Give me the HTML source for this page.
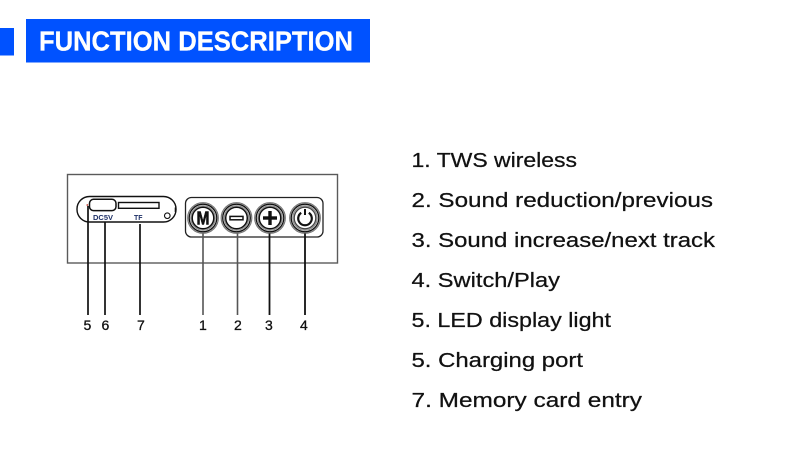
<!DOCTYPE html>
<html>
<head>
<meta charset="utf-8">
<style>
html,body{margin:0;padding:0;background:#fff;}
svg{display:block;}
</style>
</head>
<body>
<svg width="790" height="471" viewBox="0 0 790 471" xmlns="http://www.w3.org/2000/svg">
  <rect x="0" y="0" width="790" height="471" fill="#fff"/>
  <!-- Header -->
  <rect x="0" y="28" width="14" height="27.5" fill="#0052ff"/>
  <rect x="26" y="19" width="344" height="43.5" fill="#0052ff"/>
  <text x="39" y="50.5" font-family="Liberation Sans, sans-serif" font-weight="bold" font-size="28" fill="#fff" stroke="#fff" stroke-width="0.3" textLength="314" lengthAdjust="spacingAndGlyphs">FUNCTION DESCRIPTION</text>

  <!-- Outer panel -->
  <rect x="67.5" y="174.5" width="270" height="88.5" fill="none" stroke="#5a5a5a" stroke-width="1.4"/>

  <!-- Left pill -->
  <rect x="77" y="196.5" width="99" height="25.5" rx="12.5" ry="12.5" fill="none" stroke="#111" stroke-width="1.4"/>
  <rect x="89.5" y="199.3" width="26.5" height="11.3" rx="4" ry="4" fill="none" stroke="#111" stroke-width="1.5"/>
  <rect x="118.5" y="202.5" width="40.5" height="5.8" fill="none" stroke="#111" stroke-width="1.4"/>
  <circle cx="167.3" cy="215.7" r="2.8" fill="none" stroke="#111" stroke-width="1.1"/>
  <circle cx="87.3" cy="205" r="0.9" fill="#c0392b"/>
  <line x1="175.5" y1="207.5" x2="175.5" y2="212" stroke="#111" stroke-width="1.6"/>
  <text x="93" y="220" font-family="Liberation Sans, sans-serif" font-weight="bold" font-size="7" fill="#1d2f66" textLength="20" lengthAdjust="spacingAndGlyphs">DC5V</text>
  <text x="134" y="220" font-family="Liberation Sans, sans-serif" font-weight="bold" font-size="7" fill="#1d2f66" textLength="8.5" lengthAdjust="spacingAndGlyphs">TF</text>

  <!-- Left leader lines -->
  <line x1="88" y1="206" x2="88" y2="315" stroke="#111" stroke-width="1.7"/>
  <line x1="105" y1="222" x2="105" y2="315" stroke="#111" stroke-width="1.7"/>
  <line x1="140" y1="224" x2="140" y2="315" stroke="#111" stroke-width="1.7"/>

  <!-- Button group -->
  <rect x="185.5" y="197.5" width="137.5" height="39.5" rx="6" ry="6" fill="none" stroke="#222" stroke-width="1.3"/>

  <g fill="#fff">
    <!-- Button M -->
    <g transform="translate(203,218)">
      <circle r="15.3" stroke="#777" stroke-width="1.2"/>
      <circle r="13.8" stroke="#111" stroke-width="1.3"/>
      <circle r="12.2" stroke="#888" stroke-width="1.1"/>
      <circle r="10.8" stroke="#111" stroke-width="1.5"/>
      <text x="0" y="6.5" text-anchor="middle" font-family="Liberation Sans, sans-serif" font-weight="bold" font-size="18" fill="#111" stroke="#111" stroke-width="0.6" textLength="13" lengthAdjust="spacingAndGlyphs">M</text>
    </g>
    <!-- Button minus -->
    <g transform="translate(236.5,218)">
      <circle r="15.3" stroke="#777" stroke-width="1.2"/>
      <circle r="13.8" stroke="#111" stroke-width="1.3"/>
      <circle r="12.2" stroke="#888" stroke-width="1.1"/>
      <circle r="10.8" stroke="#111" stroke-width="1.5"/>
      <rect x="-6.5" y="-1.6" width="13" height="3.4" fill="#fff" stroke="#111" stroke-width="1.5"/>
    </g>
    <!-- Button plus -->
    <g transform="translate(270,218)">
      <circle r="15.3" stroke="#777" stroke-width="1.2"/>
      <circle r="13.8" stroke="#111" stroke-width="1.3"/>
      <circle r="12.2" stroke="#888" stroke-width="1.1"/>
      <circle r="10.8" stroke="#111" stroke-width="1.5"/>
      <rect x="-7" y="-1.7" width="14" height="3.4" fill="#111"/>
      <rect x="-1.7" y="-7" width="3.4" height="14" fill="#111"/>
    </g>
    <!-- Button power -->
    <g transform="translate(305,218)">
      <circle r="15.3" stroke="#777" stroke-width="1.2"/>
      <circle r="13.8" stroke="#111" stroke-width="1.3"/>
      <circle r="12.2" stroke="#888" stroke-width="1.1"/>
      <circle r="10.8" stroke="#444" stroke-width="1.3"/>
      <path d="M -3.8 -5.2 A 6.8 6.8 0 1 0 3.8 -5.2" fill="none" stroke="#111" stroke-width="2.2"/>
      <line x1="0" y1="-9" x2="0" y2="-3" stroke="#111" stroke-width="2"/>
    </g>
  </g>

  <!-- Button leader lines -->
  <line x1="203" y1="233.5" x2="203" y2="315" stroke="#555" stroke-width="1.6"/>
  <line x1="237.5" y1="233.5" x2="237.5" y2="315" stroke="#555" stroke-width="1.6"/>
  <line x1="269.5" y1="233.5" x2="269.5" y2="315" stroke="#111" stroke-width="1.8"/>
  <line x1="305" y1="233.5" x2="305" y2="315" stroke="#111" stroke-width="1.8"/>

  <!-- Numbers -->
  <g font-family="Liberation Sans, sans-serif" font-size="14" fill="#111" stroke="#111" stroke-width="0.3">
    <text x="83.5" y="330">5</text>
    <text x="101.5" y="330">6</text>
    <text x="137" y="330">7</text>
    <text x="199" y="330">1</text>
    <text x="234" y="330">2</text>
    <text x="265" y="330">3</text>
    <text x="300" y="330">4</text>
  </g>

  <!-- Description list -->
  <g font-family="Liberation Sans, sans-serif" font-size="20.5" fill="#111" stroke="#111" stroke-width="0.25">
    <text x="411.5" y="167" textLength="165.5" lengthAdjust="spacingAndGlyphs">1. TWS wireless</text>
    <text x="411.5" y="207" textLength="301.5" lengthAdjust="spacingAndGlyphs">2. Sound reduction/previous</text>
    <text x="411.5" y="247" textLength="303.5" lengthAdjust="spacingAndGlyphs">3. Sound increase/next track</text>
    <text x="411.5" y="287" textLength="148.5" lengthAdjust="spacingAndGlyphs">4. Switch/Play</text>
    <text x="411.5" y="327" textLength="199.5" lengthAdjust="spacingAndGlyphs">5. LED display light</text>
    <text x="411.5" y="367" textLength="171.5" lengthAdjust="spacingAndGlyphs">5. Charging port</text>
    <text x="411.5" y="407" textLength="230.5" lengthAdjust="spacingAndGlyphs">7. Memory card entry</text>
  </g>
</svg>
</body>
</html>
